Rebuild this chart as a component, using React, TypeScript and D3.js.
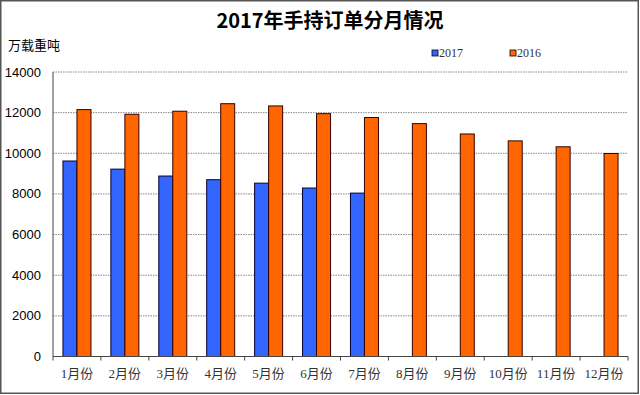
import React from 'react'
import * as d3 from 'd3'

const months = ['1月份', '2月份', '3月份', '4月份', '5月份', '6月份', '7月份', '8月份', '9月份', '10月份', '11月份', '12月份']
const orders2017 = [9620, 9220, 8880, 8700, 8530, 8290, 8040, null, null, null, null, null]
const orders2016 = [12150, 11920, 12070, 12440, 12330, 11950, 11760, 11460, 10950, 10610, 10320, 9990]
const yTicks = [0, 2000, 4000, 6000, 8000, 10000, 12000, 14000]

const App = () => {
  const width = 640
  const height = 395
  const left = 53
  const right = 628
  const top = 72
  const bottom = 356.5

  const x = d3.scaleBand().domain(months).range([left, right])
  const inner = d3.scaleBand().domain(['2017', '2016']).range([0, 28])
  const y = d3.scaleLinear().domain([0, 14000]).range([bottom, top])
  const offset = (x.bandwidth() - 28) / 2

  const blue = '#3366ff'
  const orange = '#ff6600'

  return (
    <svg
      width={width}
      height={height}
      style={{ position: 'absolute', left: 0, top: 0, background: '#fff' }}
    >
      <rect x={0.75} y={0.75} width={width - 2.5} height={height - 2.5} fill="#fff" stroke="#555" strokeWidth={1.5} />

      <text x={330} y={28} textAnchor="middle" fontFamily="'Noto Sans CJK SC', sans-serif" fontWeight="bold" fontSize={20} fill="#000">
        2017年手持订单分月情况
      </text>
      <text x={8} y={50} fontFamily="'Noto Sans CJK SC', serif" fontSize={13} fill="#000">
        万载重吨
      </text>

      {/* legend */}
      <rect x={432} y={50} width={6} height={6} fill={blue} stroke="#000" strokeWidth={0.8} />
      <text x={439} y={57} fontFamily="'Liberation Serif', serif" fontSize={12} fill="#333">2017</text>
      <rect x={510} y={50} width={6} height={6} fill={orange} stroke="#000" strokeWidth={0.8} />
      <text x={517} y={57} fontFamily="'Liberation Serif', serif" fontSize={12} fill="#333">2016</text>

      {yTicks.filter(t => t > 0).map(t => (
        <line key={t} x1={left} x2={right} y1={y(t)} y2={y(t)} stroke="#888" strokeWidth={1} strokeDasharray="1.5,1" />
      ))}
      {yTicks.map(t => (
        <text key={t} x={41} y={y(t) + 4.5} textAnchor="end" fontFamily="'Liberation Sans', Arial, sans-serif" fontSize={13} fill="#000">
          {t}
        </text>
      ))}

      {months.map((m, i) => (
        <g key={m}>
          {orders2017[i] != null && (
            <rect
              x={x(m)! + offset + inner('2017')!}
              y={y(orders2017[i]!)}
              width={inner.bandwidth()}
              height={bottom - y(orders2017[i]!)}
              fill={blue}
              stroke="#000033"
              strokeWidth={1}
            />
          )}
          <rect
            x={x(m)! + offset + inner('2016')!}
            y={y(orders2016[i])}
            width={inner.bandwidth()}
            height={bottom - y(orders2016[i])}
            fill={orange}
            stroke="#330000"
            strokeWidth={1}
          />
          <text x={x(m)! + x.bandwidth() / 2} y={378} textAnchor="middle" fontFamily="'Liberation Serif', 'Noto Sans CJK SC', serif" fontSize={13} fill="#333">
            {m}
          </text>
        </g>
      ))}

      <line x1={left} x2={left} y1={top} y2={bottom} stroke="#444" />
      <line x1={left} x2={right} y1={bottom} y2={bottom} stroke="#444" />
      {months.map((m, i) => (
        <line key={i} x1={x(m)!} x2={x(m)!} y1={bottom} y2={bottom + 4} stroke="#444" />
      ))}
      <line x1={right} x2={right} y1={bottom} y2={bottom + 4} stroke="#444" />
    </svg>
  )
}

export default App
